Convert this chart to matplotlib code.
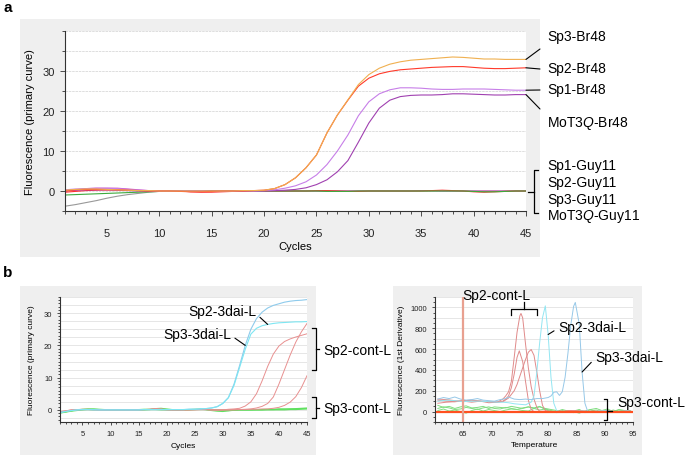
import numpy as np
import matplotlib
matplotlib.use("Agg")
import matplotlib.pyplot as plt
from matplotlib.patches import Rectangle
from matplotlib.lines import Line2D
from matplotlib.ticker import MultipleLocator

plt.rcParams['font.family'] = ['Liberation Sans', 'DejaVu Sans']
plt.rcParams['mathtext.fontset'] = 'custom'
plt.rcParams['mathtext.rm'] = 'Liberation Sans'
plt.rcParams['mathtext.it'] = 'Liberation Sans:italic'

# ---- panel a: amplification curves (cycles 1..45)
cycles = list(range(1, 46))

sp3_br48 = [0.2, 0.4, 0.5, 0.5, 0.4, 0.3, 0.2, 0.1, 0.1, 0, 0, 0, 0, 0, 0, 0, 0, 0.1, 0.1, 0.2,
            0.6, 1.6, 3.3, 5.8, 9.0, 14.5, 19.0, 22.8, 26.6, 29.1, 30.7, 31.7, 32.3, 32.7, 32.9,
            33.1, 33.3, 33.5, 33.4, 33.2, 33.0, 33.0, 32.9, 32.9, 32.9]
sp2_br48 = [0.0, 0.3, 0.4, 0.4, 0.3, 0.3, 0.2, 0.1, 0, 0, 0, -0.1, -0.2, -0.2, -0.1, 0, 0, 0, 0.1, 0.2,
            0.6, 1.6, 3.3, 5.8, 9.0, 14.5, 19.0, 22.7, 26.2, 28.2, 29.3, 29.9, 30.3, 30.5, 30.7,
            30.9, 31.0, 31.1, 31.1, 30.9, 30.7, 30.6, 30.6, 30.7, 30.8]
sp1_br48 = [0.3, 0.5, 0.6, 0.7, 0.7, 0.6, 0.4, 0.2, 0.1, 0, 0, 0, 0, 0, -0.1, 0, 0, 0, 0, 0.1,
            0.3, 0.7, 1.3, 2.3, 4.0, 6.6, 10.0, 14.0, 18.8, 22.3, 24.3, 25.3, 25.8, 25.8, 25.7,
            25.5, 25.4, 25.4, 25.5, 25.5, 25.5, 25.4, 25.3, 25.2, 25.2]
mot3q_br48 = [0.1, 0.2, 0.3, 0.3, 0.3, 0.2, 0.1, 0, 0, 0, 0, 0, 0, 0, 0, -0.1, -0.1, 0, 0, 0,
              0.1, 0.2, 0.4, 0.8, 1.6, 2.8, 4.8, 7.6, 12.2, 17.0, 20.7, 22.7, 23.6, 23.9, 24.0,
              24.0, 24.1, 24.3, 24.3, 24.2, 24.1, 24.0, 24.0, 24.1, 24.1]
sp1_guy11 = [0.0, 0.3, 0.6, 0.7, 0.7, 0.7, 0.5, 0.3, 0.1, 0, 0, 0, 0, -0.1, -0.1, 0, 0, 0, 0, 0,
             0, 0, 0, 0, 0, 0, 0, 0, 0, 0, 0, 0, 0, 0, 0.1, 0.1, 0, 0, 0, 0, 0, 0, 0, 0, 0]
sp2_guy11 = [-0.3, -0.1, 0.1, 0.2, 0.3, 0.3, 0.2, 0.1, 0, 0, 0, 0, -0.2, -0.3, -0.3, -0.2, -0.1, 0, 0, 0,
             0, 0, 0, 0, 0.1, 0.1, 0, -0.1, -0.1, 0, 0, 0, 0, 0, 0, 0.1, 0.2, 0.1, 0, -0.2,
             -0.3, -0.2, -0.1, 0, 0]
sp3_guy11 = [-1.0, -0.9, -0.8, -0.7, -0.6, -0.5, -0.4, -0.3, -0.2, -0.1, 0, 0, 0, 0, 0, 0, 0, 0, 0, 0,
             0, 0, 0, 0, 0, -0.1, -0.1, -0.1, 0, 0, 0, 0, 0, 0, 0, 0, 0, 0, 0, -0.1,
             -0.2, -0.2, -0.1, 0, 0]
mot3q_guy11 = [-3.8, -3.4, -2.9, -2.4, -1.8, -1.3, -0.9, -0.6, -0.3, -0.1, 0, 0, 0, 0, 0, 0, 0, 0, 0, 0,
               0, 0, 0, 0, 0, 0, 0, 0, 0, 0, 0, 0, 0, 0, 0, 0, 0, 0, 0, 0, 0, 0, 0, 0, 0]

# ---- panel b left: amplification in leaves
sp2_3dai = [-0.8, -0.5, -0.2, 0, 0.1, 0.1, 0, 0, 0, 0, 0, 0, 0, 0, 0, 0.1, 0.1, 0.1, 0.1, 0.1,
            0.1, 0.1, 0.1, 0.2, 0.2, 0.3, 0.4, 0.6, 1.0, 2.0, 3.8, 7.6, 13.2, 18.8, 23.5,
            25.3, 26.1, 26.5, 26.8, 27.0, 27.1, 27.2, 27.3, 27.3, 27.4]
sp3_3dai = [-0.8, -0.5, -0.2, 0, 0.1, 0.1, 0.1, 0, 0, 0, 0, 0, 0, 0, 0, 0.1, 0.1, 0.1, 0.1, 0.1,
            0.1, 0.1, 0.1, 0.2, 0.2, 0.3, 0.4, 0.6, 1.0, 2.0, 3.8, 8.0, 13.8, 20.0, 25.0,
            28.3, 30.3, 31.6, 32.4, 32.9, 33.4, 33.7, 33.9, 34.0, 34.2]
cont_a = [-0.7, -0.4, -0.1, 0, 0.1, 0.1, 0.1, 0, 0, 0, 0, 0, 0, 0, 0, 0.1, 0.2, 0.3, 0.2, 0.1,
          0, 0, 0, 0.1, 0.1, 0.1, 0.1, 0, -0.1, 0, 0.2, 0.3, 0.5, 1.2, 2.5,
          5.0, 9.0, 13.5, 17.3, 19.8, 21.2, 22.0, 22.6, 23.1, 23.6]
cont_b = [-0.6, -0.3, 0, 0.1, 0.2, 0.2, 0.1, 0, 0, 0, 0, 0, 0, 0, 0.1, 0.1, 0.2, 0.4, 0.3, 0.1,
          0, 0, 0, 0, 0.1, 0.1, 0.1, 0, 0, 0, 0, 0.1, 0.1, 0.2, 0.3,
          0.6, 1.1, 2.0, 4.0, 8.0, 12.5, 17.0, 21.0, 24.2, 26.8]
cont_c = [-0.5, -0.3, 0, 0.1, 0.1, 0.1, 0, 0, 0, 0, 0, 0, 0, 0, 0, 0.1, 0.1, 0.2, 0.1, 0,
          0, 0, 0, 0, 0, 0.1, 0.1, 0, 0, 0, 0, 0, 0.1, 0.1, 0.2,
          0.2, 0.3, 0.3, 0.5, 0.8, 1.4, 2.4, 4.1, 6.9, 10.6]
cont3_a = [-0.9, -0.6, -0.3, 0, 0.2, 0.3, 0.3, 0.2, 0.1, 0, 0, 0, 0, 0.1, 0.1, 0.2, 0.2, 0.3, 0.2, 0.1,
           0, 0, 0.1, 0.1, 0.2, 0.2, 0.1, 0, -0.1, -0.2, -0.2, -0.1, 0, 0, 0,
           0.1, 0.1, 0.2, 0.2, 0.3, 0.3, 0.3, 0.4, 0.5, 0.6]
cont3_b = [-0.6, -0.5, -0.2, 0, 0.1, 0.2, 0.2, 0.1, 0, 0, 0, 0, 0.1, 0.1, 0, 0, 0.1, 0.4, 0.5, 0.3,
           0.1, 0, 0, 0, 0.1, 0.2, 0.1, -0.2, -0.4, -0.5, -0.3, -0.1, 0, 0, 0,
           0, 0, 0.1, 0.1, 0.2, 0.2, 0.3, 0.3, 0.4, 0.4]
cont3_c = [-1.0, -0.7, -0.4, -0.2, 0, 0.1, 0, 0, 0, 0, 0, 0, 0, 0, 0, 0.1, 0.1, 0.1, 0, 0,
           0, 0, 0, 0.1, 0.1, 0.1, 0.1, 0, 0, 0, 0, 0, 0, 0, 0,
           0, 0, 0, 0, 0, 0, 0.1, 0.1, 0.2, 0.3]

# ---- panel b right: melt curves (1st derivative)
t_red1 = [60.5, 62, 63.5, 65, 66.5, 68, 69.5, 71, 72, 72.5, 73, 73.5, 74, 74.5, 75, 75.2, 75.5, 76,
          76.5, 77, 77.5, 78, 78.5, 80, 82, 84, 86, 88, 90, 92, 94, 95]
d_red1 = [110, 100, 95, 105, 110, 100, 95, 90, 120, 150, 190, 290, 520, 760, 920, 942, 900, 650,
          420, 240, 120, 40, 0, -5, 5, 0, 10, -5, 5, 0, -5, 0]
t_red2 = [60.5, 62, 63.5, 65, 66.5, 68, 69.5, 71, 72, 72.5, 73, 73.5, 74, 74.5, 74.9, 75.5, 76,
          76.5, 77, 77.5, 80, 82, 84, 86, 88, 90, 92, 94, 95]
d_red2 = [80, 90, 95, 100, 90, 100, 85, 90, 100, 120, 150, 230, 360, 520, 583, 480, 290,
          110, 20, 0, 5, -5, 10, 0, 5, 0, -5, 5, 0]
t_red3 = [60.5, 62, 63.5, 65, 66.5, 68, 69.5, 71, 72, 73, 74, 74.5, 75, 75.5, 76, 76.5, 77, 77.5,
          78, 78.5, 79, 79.5, 80, 82, 84, 86, 88, 90, 92, 94, 95]
d_red3 = [120, 115, 105, 100, 110, 100, 95, 90, 95, 130, 200, 260, 340, 420, 500, 570, 596, 540,
          380, 200, 60, 10, 0, -5, 10, 0, -5, 10, 0, 5, 0]
t_cyan = [60.5, 62, 63.5, 65, 66.5, 68, 69.5, 71, 72, 73, 74, 75, 76, 77, 77.5, 78, 78.5, 79, 79.5,
          80, 80.5, 81, 81.5, 82, 84, 86, 88, 90, 92, 94, 95]
d_cyan = [100, 110, 105, 95, 100, 100, 95, 90, 90, 85, 75, 70, 65, 90, 150, 380, 660, 900, 1015,
          740, 330, 80, 10, 0, -5, 5, 0, 10, -5, 5, 0]
t_blue = [60.5, 61.5, 62.5, 63.5, 64.5, 65.5, 66.5, 67.5, 68.5, 69.5, 70.5, 71.5, 72.5, 73, 74, 75,
          76, 77, 78, 79, 80, 80.5, 81, 81.5, 82, 82.5, 83, 83.5, 84, 84.5, 84.8, 85.5, 86, 86.5,
          87, 88, 90, 92, 94, 95]
d_blue = [120, 135, 125, 140, 120, 110, 115, 125, 110, 105, 100, 115, 125, 140, 120, 115,
          120, 115, 125, 125, 135, 150, 185, 190, 155, 190, 330, 560, 830, 1010, 1048, 840, 380, 80,
          0, -5, 5, 0, 5, 0]
t_green = list(np.arange(60.5, 95, 1.0))
d_green1 = [30, 45, 35, 20, 25, 40, 30, 20, 35, 45, 30, 25, 40, 30, 20, 35, 45, 30, 15, 25,
            10, 0, 20, 5, -10, 15, 0, 20, -5, 10, 25, 0, 15, 5, 10]
d_green2 = [60, 40, 50, 30, 45, 55, 35, 40, 50, 30, 45, 40, 35, 50, 40, 30, 45, 35, 50, 20,
            0, -10, 10, -5, 5, 20, -10, 5, 15, -5, 10, 0, 20, 10, 5]
d_green3 = [10, 25, 5, 15, 0, -15, 10, 25, 5, 20, 10, 0, 15, 25, 20, 10, 5, 30, 45, 30,
            20, 10, -5, 10, 0, -15, 5, 20, 30, 10, -5, 15, 0, 10, 0]

W, H = 685, 456


def fx(x):
    return x / W


def fy(y):
    return 1 - y / H


def style(ax, fs):
    for s in ['top', 'right']:
        ax.spines[s].set_visible(False)
    for s in ['left', 'bottom']:
        ax.spines[s].set_color('#333333')
        ax.spines[s].set_linewidth(0.8)
    ax.tick_params(which='both', direction='out', color='#333333', width=0.6,
                   labelsize=fs, labelcolor='#222222')
    ax.tick_params(which='major', length=3.5, pad=4)
    ax.tick_params(which='minor', length=2)


def bracket(pts):
    fig.add_artist(Line2D([fx(p[0]) for p in pts], [fy(p[1]) for p in pts],
                          transform=fig.transFigure, color='black', lw=0.9))


fig = plt.figure(figsize=(6.85, 4.56), dpi=100)
for x0, y0, x1, y1 in [(20, 20, 540, 258), (20, 287, 316, 456), (393, 287, 642, 456)]:
    fig.patches.append(Rectangle((fx(x0), fy(y1)), (x1 - x0) / W, (y1 - y0) / H,
                                 transform=fig.transFigure, facecolor='#efefef',
                                 edgecolor='none', zorder=-5))

# ---------------- panel a
ax = fig.add_axes([fx(65), fy(212), (526 - 65) / W, (212 - 32) / H])
style(ax, 8)
for v in np.arange(0, 41, 5):
    ax.axhline(v, color='#d9d9d9', lw=0.6, ls=(0, (3, 1)), zorder=0)
ax.plot(cycles, mot3q_guy11, color='#999999', lw=0.8)
ax.plot(cycles, sp1_guy11, color='#d04fc0', lw=0.8)
ax.plot(cycles, sp2_guy11, color='#ff3030', lw=0.8)
ax.plot(cycles, sp3_guy11, color='#3caa3c', lw=0.8)
ax.plot(cycles, mot3q_br48, color='#a040b0', lw=0.8)
ax.plot(cycles, sp1_br48, color='#c77ee8', lw=0.8)
ax.plot(cycles, sp2_br48, color='#ff3a2a', lw=0.8)
ax.plot(cycles, sp3_br48, color='#f0b050', lw=0.8)
ax.set_xlim(1, 45)
ax.set_ylim(-5, 40)
ax.set_xticks(range(5, 46, 5))
ax.xaxis.set_minor_locator(MultipleLocator(1))
ax.set_yticks([0, 10, 20, 30])
ax.yaxis.set_minor_locator(MultipleLocator(5))
ax.tick_params(axis='x', pad=9)
ax.set_xlabel('Cycles', fontsize=8, labelpad=2)
ax.set_ylabel('Fluorescence (primary curve)', fontsize=8)
ax.yaxis.set_label_coords(-0.065, 0.5)

lab_a = [('Sp3-Br48', sp3_br48, 50, 37), ('Sp2-Br48', sp2_br48, 70, 69),
         ('Sp1-Br48', sp1_br48, 91, 90), ('MoT3$\\mathit{Q}$-Br48', mot3q_br48, 110, 124)]
for name, ser, yend, ytxt in lab_a:
    ax.annotate('', xy=(cycles[-1], ser[-1]), xytext=(540, H - yend), textcoords='figure pixels',
                arrowprops=dict(arrowstyle='-', lw=0.8, color='black', shrinkA=0, shrinkB=0),
                annotation_clip=False)
    fig.text(fx(547), fy(ytxt), name, fontsize=10, va='center')
for name, ytxt in [('Sp1-Guy11', 166), ('Sp2-Guy11', 183), ('Sp3-Guy11', 200),
                   ('MoT3$\\mathit{Q}$-Guy11', 217)]:
    fig.text(fx(547), fy(ytxt), name, fontsize=10, va='center')
bracket([(538, 171), (534, 171), (534, 214), (538, 214)])
bracket([(528, 193), (534, 193)])

fig.text(fx(3), fy(8), 'a', fontsize=11, fontweight='bold', va='center')
fig.text(fx(3), fy(273), 'b', fontsize=11, fontweight='bold', va='center')

# ---------------- panel b left
ax2 = fig.add_axes([fx(60), fy(423), (307 - 60) / W, (423 - 298) / H])
style(ax2, 5.5)
for v in np.arange(-2.5, 35.1, 2.5):
    ax2.axhline(v, color='#e2e2e2', lw=0.6, zorder=0)
for ser in [cont3_a, cont3_b, cont3_c]:
    ax2.plot(cycles, ser, color='#5fe05f', lw=0.8)
for ser in [cont_a, cont_b, cont_c]:
    ax2.plot(cycles, ser, color='#e89090', lw=0.7)
ax2.plot(cycles, sp3_3dai, color='#8ecbec', lw=0.8)
ax2.plot(cycles, sp2_3dai, color='#7ee6f2', lw=0.8)
ax2.set_xlim(1, 45)
ax2.set_ylim(-3.75, 35)
ax2.set_xticks(range(5, 46, 5))
ax2.xaxis.set_minor_locator(MultipleLocator(1))
ax2.set_yticks([0, 10, 20, 30])
ax2.yaxis.set_minor_locator(MultipleLocator(1))
ax2.tick_params(which='major', length=2.5, pad=3)
ax2.tick_params(which='minor', length=1.3)
ax2.set_xlabel('Cycles', fontsize=6, labelpad=4)
ax2.set_ylabel('Fluorescence (primary curve)', fontsize=6)
ax2.yaxis.set_label_coords(-0.1, 0.5)

ax2.annotate('Sp2-3dai-L', xy=(cycles[37], sp2_3dai[37]), xytext=(188, H - 312),
             textcoords='figure pixels', fontsize=10, va='center', ha='left',
             arrowprops=dict(arrowstyle='-', lw=0.8, color='black', shrinkA=1, shrinkB=0,
                             relpos=(1.0, 0.3)))
ax2.annotate('Sp3-3dai-L', xy=(cycles[33], sp3_3dai[33]), xytext=(163, H - 335),
             textcoords='figure pixels', fontsize=10, va='center', ha='left',
             arrowprops=dict(arrowstyle='-', lw=0.8, color='black', shrinkA=1, shrinkB=0,
                             relpos=(1.0, 0.4)))
bracket([(312, 329), (315.5, 329), (315.5, 371), (312, 371)])
bracket([(315.5, 350), (319, 350)])
bracket([(312, 398), (315.5, 398), (315.5, 419), (312, 419)])
bracket([(315.5, 409), (319, 409)])
fig.text(fx(323), fy(351), 'Sp2-cont-L', fontsize=10, va='center')
fig.text(fx(323), fy(409), 'Sp3-cont-L', fontsize=10, va='center')

# ---------------- panel b right
ax3 = fig.add_axes([fx(435), fy(423), (633 - 435) / W, (423 - 298) / H])
style(ax3, 5.5)
for v in np.arange(-100, 1101, 100):
    ax3.axhline(v, color='#e2e2e2', lw=0.6, zorder=0)
for ser in [d_green1, d_green2, d_green3]:
    ax3.plot(t_green, ser, color='#80dd80', lw=0.7)
ax3.plot(t_red1, d_red1, color='#e08a8a', lw=0.7)
ax3.plot(t_red2, d_red2, color='#e08a8a', lw=0.7)
ax3.plot(t_red3, d_red3, color='#e08a8a', lw=0.7)
ax3.plot(t_cyan, d_cyan, color='#93e6f2', lw=0.7)
ax3.plot(t_blue, d_blue, color='#96c8e8', lw=0.7)
ax3.axhline(0, color='#ff5020', lw=1.6)
ax3.axvline(65, color='#e8a090', lw=1.6)
ax3.set_xlim(60, 95)
ax3.set_ylim(-100, 1100)
ax3.set_xticks(range(65, 96, 5))
ax3.xaxis.set_minor_locator(MultipleLocator(1))
ax3.set_yticks(range(0, 1001, 200))
ax3.yaxis.set_minor_locator(MultipleLocator(50))
ax3.tick_params(which='major', length=2.5, pad=3)
ax3.tick_params(which='minor', length=1.3)
ax3.set_xlabel('Temperature', fontsize=6, labelpad=3)
ax3.set_ylabel('Fluorescence (1st Derivative)', fontsize=6)
ax3.yaxis.set_label_coords(-0.15, 0.5)

fig.text(fx(462), fy(296), 'Sp2-cont-L', fontsize=10, va='center')
bracket([(511, 316), (511, 310), (537, 310), (537, 316)])
bracket([(524, 310), (524, 303)])
ax3.annotate('Sp2-3dai-L', xy=(80, 740), xytext=(558, H - 328), textcoords='figure pixels',
             fontsize=10, va='center', ha='left',
             arrowprops=dict(arrowstyle='-', lw=0.8, color='black', shrinkA=1, shrinkB=0,
                             relpos=(0.0, 0.4)))
ax3.annotate('Sp3-3dai-L', xy=(86, 380), xytext=(595, H - 358), textcoords='figure pixels',
             fontsize=10, va='center', ha='left',
             arrowprops=dict(arrowstyle='-', lw=0.8, color='black', shrinkA=1, shrinkB=0,
                             relpos=(0.0, 0.4)))
bracket([(604, 400), (607, 400), (607, 421), (604, 421)])
bracket([(607, 412), (612, 412)])
fig.text(fx(617), fy(403), 'Sp3-cont-L', fontsize=10, va='center')

fig.savefig('out.png', dpi=100)
